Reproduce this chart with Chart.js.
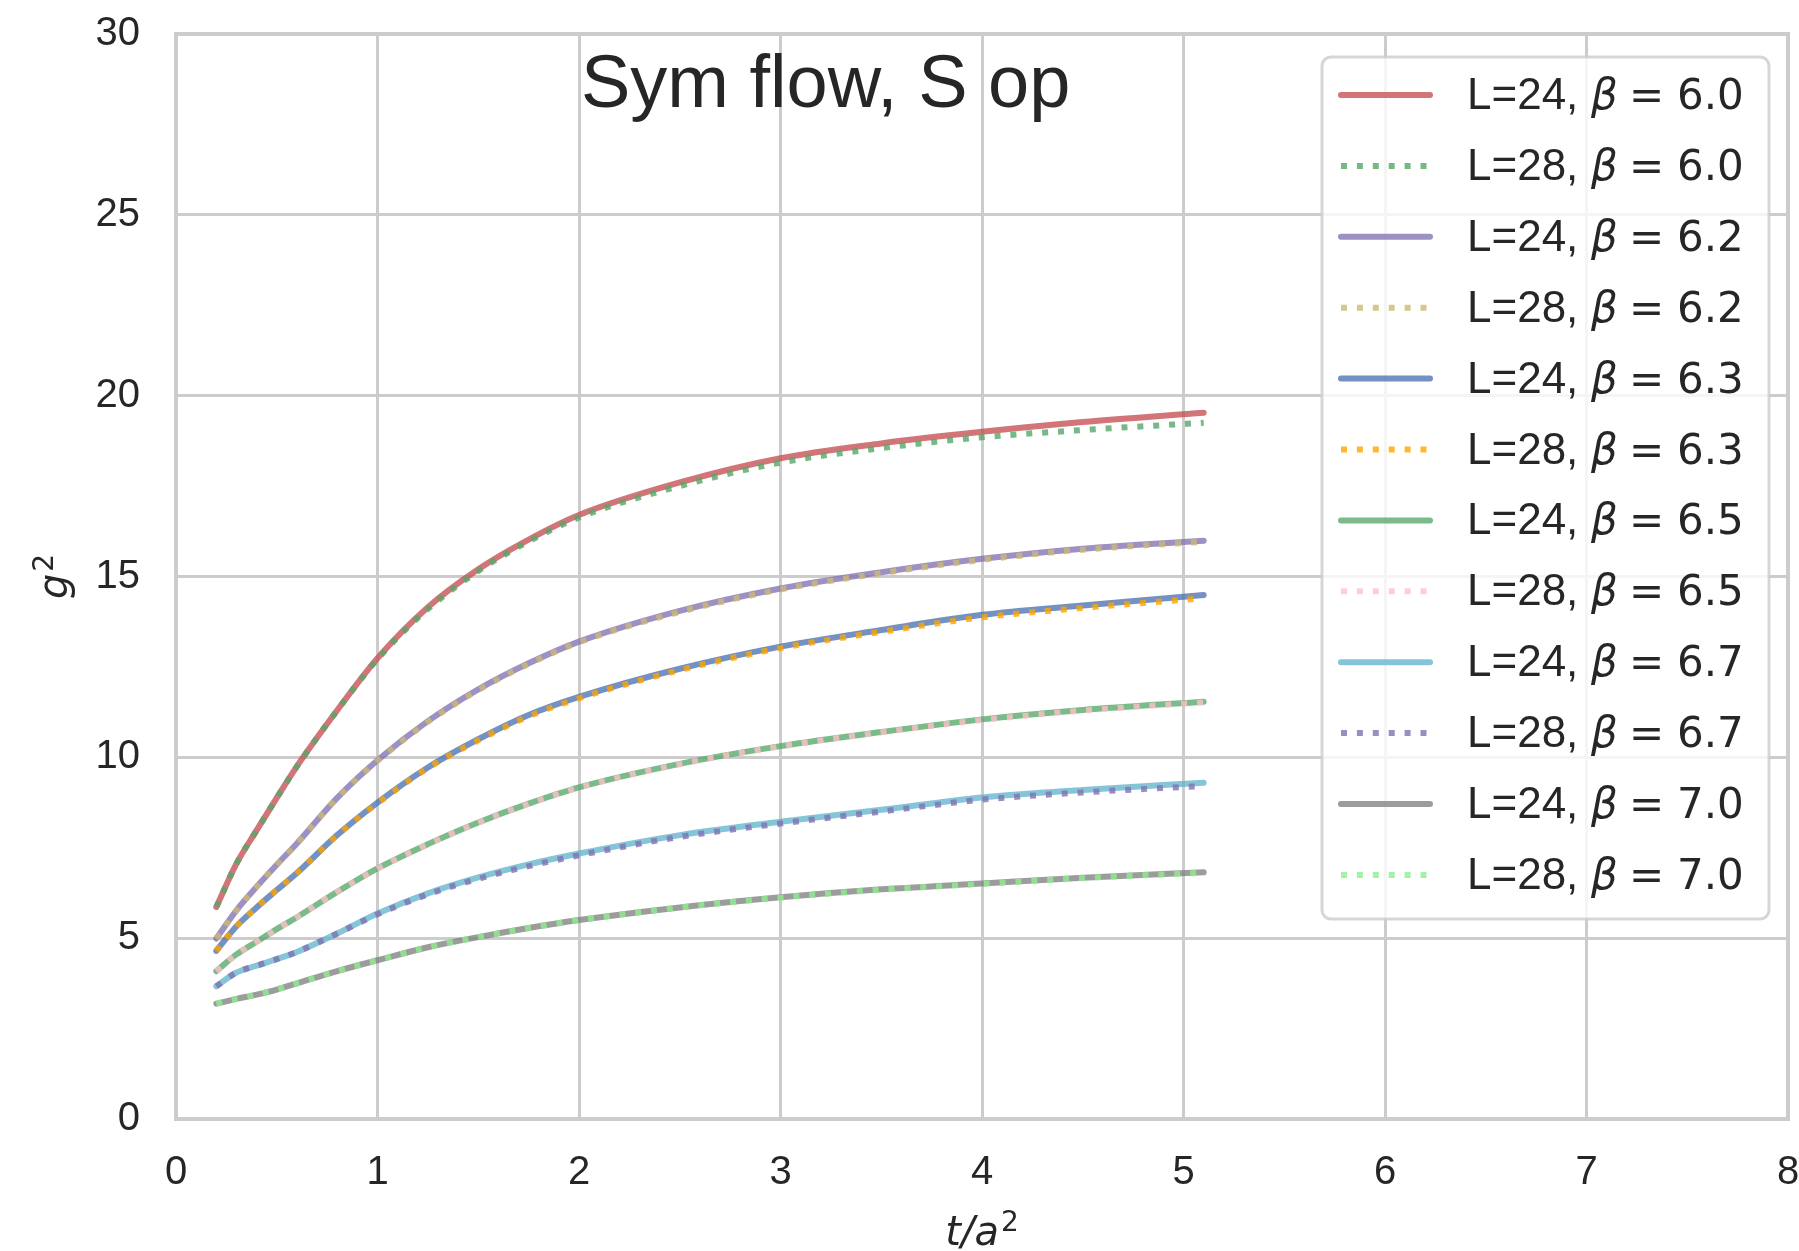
<!DOCTYPE html>
<html>
<head>
<meta charset="utf-8">
<script src="https://cdn.jsdelivr.net/npm/chart.js@4.4.1/dist/chart.umd.min.js"></script>
<style>
  html, body { margin: 0; padding: 0; background: #ffffff; }
  canvas { display: block; }
</style>
</head>
<body>
<canvas id="flow" width="1799" height="1251"></canvas>
<script>
const tValues = [0.2, 0.3, 0.4, 0.5, 0.6, 0.8, 1.0, 1.25, 1.5, 1.75, 2.0, 2.5, 3.0, 3.5, 4.0, 4.5, 5.1];

const sizes = ['24', '28', '24', '28', '24', '28', '24', '28', '24', '28', '24', '28'];
const betas = ['6.0', '6.0', '6.2', '6.2', '6.3', '6.3', '6.5', '6.5', '6.7', '6.7', '7.0', '7.0'];

const g2_L24_b60 = [5.86, 7.06, 7.98, 8.88, 9.75, 11.3, 12.74, 14.15, 15.2, 16.02, 16.70, 17.6, 18.27, 18.68, 19.0, 19.27, 19.53];
const g2_L28_b60 = [5.86, 7.06, 7.98, 8.88, 9.75, 11.3, 12.72, 14.1, 15.15, 15.97, 16.63, 17.5, 18.15, 18.55, 18.85, 19.05, 19.25];
const g2_L24_b62 = [4.99, 5.77, 6.42, 7.03, 7.62, 8.88, 9.92, 11.0, 11.88, 12.6, 13.20, 14.05, 14.67, 15.12, 15.49, 15.77, 15.99];
const g2_L28_b62 = [4.99, 5.77, 6.42, 7.03, 7.62, 8.88, 9.9, 10.98, 11.86, 12.58, 13.18, 14.02, 14.64, 15.09, 15.46, 15.74, 15.96];
const g2_L24_b63 = [4.65, 5.33, 5.85, 6.33, 6.8, 7.85, 8.75, 9.72, 10.5, 11.17, 11.67, 12.45, 13.06, 13.52, 13.94, 14.2, 14.49];
const g2_L28_b63 = [4.65, 5.33, 5.85, 6.33, 6.8, 7.85, 8.73, 9.7, 10.47, 11.13, 11.63, 12.41, 13.02, 13.47, 13.87, 14.13, 14.40];
const g2_L24_b65 = [4.09, 4.55, 4.9, 5.25, 5.58, 6.28, 6.93, 7.6, 8.2, 8.72, 9.17, 9.82, 10.31, 10.7, 11.05, 11.31, 11.54];
const g2_L28_b65 = [4.09, 4.55, 4.9, 5.25, 5.58, 6.28, 6.92, 7.59, 8.19, 8.71, 9.16, 9.81, 10.3, 10.69, 11.03, 11.29, 11.52];
const g2_L24_b67 = [3.67, 4.05, 4.24, 4.42, 4.62, 5.13, 5.68, 6.24, 6.68, 7.04, 7.34, 7.85, 8.22, 8.55, 8.89, 9.1, 9.30];
const g2_L28_b67 = [3.67, 4.05, 4.24, 4.42, 4.62, 5.13, 5.66, 6.21, 6.64, 6.99, 7.29, 7.8, 8.17, 8.5, 8.83, 9.03, 9.21];
const g2_L24_b70 = [3.19, 3.32, 3.44, 3.58, 3.75, 4.09, 4.39, 4.75, 5.03, 5.28, 5.5, 5.85, 6.13, 6.35, 6.51, 6.67, 6.82];
const g2_L28_b70 = [3.19, 3.32, 3.44, 3.58, 3.75, 4.09, 4.39, 4.75, 5.03, 5.28, 5.5, 5.85, 6.12, 6.34, 6.5, 6.66, 6.81];

const xTicks = [0, 1, 2, 3, 4, 5, 6, 7, 8];
const yTicks = [0, 5, 10, 15, 20, 25, 30];

const series = [g2_L24_b60, g2_L28_b60, g2_L24_b62, g2_L28_b62, g2_L24_b63, g2_L28_b63,
                g2_L24_b65, g2_L28_b65, g2_L24_b67, g2_L28_b67, g2_L24_b70, g2_L28_b70];

// seaborn colour codes, drawn with some transparency like the original
const colors = [
  'rgba(196, 78, 82, 0.78)',
  'rgba(85, 168, 104, 0.8)',
  'rgba(129, 114, 178, 0.78)',
  'rgba(204, 185, 116, 0.8)',
  'rgba(76, 114, 176, 0.78)',
  'rgba(255, 165, 0, 0.8)',
  'rgba(85, 168, 104, 0.78)',
  'rgba(255, 192, 203, 0.8)',
  'rgba(100, 181, 205, 0.78)',
  'rgba(129, 114, 178, 0.8)',
  'rgba(128, 128, 128, 0.78)',
  'rgba(144, 238, 144, 0.8)'
];

const LW = 6;
const DOTS = [LW, LW * 1.65];
const TEXT = '#262626';
const GRID = '#cccccc';

// later series go on top (chart.js paints low "order" last)
const datasets = series.map((vals, i) => ({
  label: 'L=' + sizes[i] + ', β = ' + betas[i],
  data: vals.map((v, k) => ({ x: tValues[k], y: v })),
  order: series.length - i,
  borderColor: colors[i],
  borderWidth: LW,
  borderDash: i % 2 === 1 ? DOTS : [],
  borderCapStyle: i % 2 === 1 ? 'butt' : 'round',
  borderJoinStyle: 'round',
  pointRadius: 0,
  fill: false,
  cubicInterpolationMode: 'monotone'
}));

function drawMathLabel(ctx, x, y, base, sup, align) {
  ctx.font = 'italic 40px "DejaVu Sans"';
  const w1 = ctx.measureText(base).width;
  ctx.font = '28px "DejaVu Sans"';
  const w2 = ctx.measureText(sup).width;
  let x0 = align === 'center' ? x - (w1 + w2 + 2) / 2 : x;
  ctx.textAlign = 'left';
  ctx.textBaseline = 'alphabetic';
  ctx.fillStyle = TEXT;
  ctx.font = 'italic 40px "DejaVu Sans"';
  ctx.fillText(base, x0, y);
  ctx.font = '28px "DejaVu Sans"';
  ctx.fillText(sup, x0 + w1 + 2, y - 14);
}

const decor = {
  id: 'decor',
  beforeDatasetsDraw(chart) {
    const { ctx, chartArea: a } = chart;
    ctx.save();
    ctx.strokeStyle = GRID;
    ctx.lineWidth = 4;
    ctx.strokeRect(a.left, a.top, a.right - a.left, a.bottom - a.top);
    ctx.restore();
  },
  afterDraw(chart) {
    const { ctx, chartArea: a } = chart;
    ctx.save();

    // title inside the axes
    ctx.fillStyle = TEXT;
    ctx.font = '74px "Liberation Sans"';
    ctx.textAlign = 'left';
    ctx.textBaseline = 'alphabetic';
    ctx.fillText('Sym flow, S op', 581, 107);

    // axis labels
    drawMathLabel(ctx, (a.left + a.right) / 2, 1245, 't/a', '2', 'center');
    ctx.save();
    ctx.translate(67, (a.top + a.bottom) / 2);
    ctx.rotate(-Math.PI / 2);
    drawMathLabel(ctx, 0, 0, 'g', '2', 'center');
    ctx.restore();

    // legend
    const bx = 1322, by = 57, bw = 447, bh = 862;
    ctx.beginPath();
    ctx.roundRect(bx, by, bw, bh, 9);
    ctx.fillStyle = 'rgba(255,255,255,0.8)';
    ctx.fill();
    ctx.strokeStyle = 'rgba(204,204,204,0.8)';
    ctx.lineWidth = 3;
    ctx.stroke();

    chart.data.datasets.forEach((ds, i) => {
      const cy = 95 + i * 70.9;
      ctx.save();
      ctx.beginPath();
      ctx.strokeStyle = ds.borderColor;
      ctx.lineWidth = LW;
      ctx.setLineDash(ds.borderDash);
      ctx.lineCap = ds.borderCapStyle;
      ctx.moveTo(1341, cy);
      ctx.lineTo(1430, cy);
      ctx.stroke();
      ctx.restore();

      const base = cy + 14;
      ctx.fillStyle = TEXT;
      ctx.textAlign = 'left';
      ctx.textBaseline = 'alphabetic';
      ctx.font = '44px "Liberation Sans"';
      ctx.fillText('L=' + sizes[i] + ',', 1467, base);
      ctx.font = 'italic 42px "DejaVu Sans"';
      ctx.fillText('β', 1591, base);
      ctx.font = '42px "DejaVu Sans"';
      ctx.fillText('=', 1629, base);
      ctx.fillText(betas[i], 1677, base);
    });

    ctx.restore();
  }
};

new Chart(document.getElementById('flow').getContext('2d'), {
  type: 'line',
  data: { datasets: datasets },
  plugins: [decor],
  options: {
    responsive: false,
    animation: false,
    devicePixelRatio: 1,
    layout: { padding: { left: 0, top: 34, right: 11, bottom: 0 } },
    plugins: {
      legend: { display: false },
      tooltip: { enabled: false }
    },
    scales: {
      x: {
        type: 'linear',
        min: 0,
        max: 8,
        afterBuildTicks: (scale) => { scale.ticks = xTicks.map(v => ({ value: v })); },
        afterFit: (scale) => {
          scale.height = 132;
          scale.paddingLeft = 0;
          scale.paddingRight = 0;
        },
        ticks: {
          color: TEXT,
          font: { family: 'Liberation Sans', size: 40 },
          padding: 30,
          maxRotation: 0
        },
        grid: { color: GRID, lineWidth: 3, drawTicks: false },
        border: { display: false }
      },
      y: {
        type: 'linear',
        min: 0,
        max: 30,
        afterBuildTicks: (scale) => { scale.ticks = yTicks.map(v => ({ value: v })); },
        afterFit: (scale) => {
          scale.width = 176;
          scale.paddingTop = 0;
          scale.paddingBottom = 0;
        },
        ticks: {
          color: TEXT,
          font: { family: 'Liberation Sans', size: 40 },
          padding: 36
        },
        grid: { color: GRID, lineWidth: 3, drawTicks: false },
        border: { display: false }
      }
    }
  }
});
</script>
</body>
</html>
